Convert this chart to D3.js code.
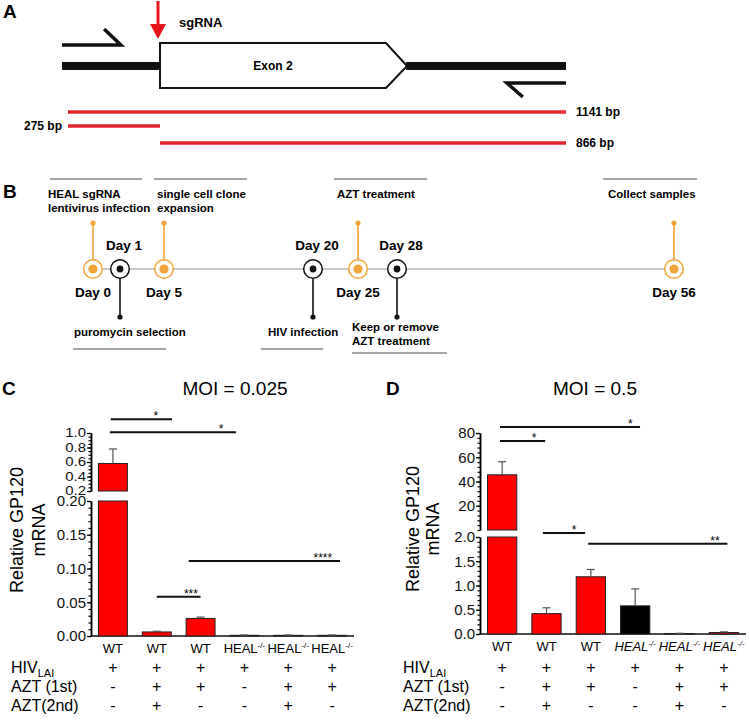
<!DOCTYPE html>
<html>
<head>
<meta charset="utf-8">
<script src="https://cdn.jsdelivr.net/npm/d3@7/dist/d3.min.js"></script>
<style>
  body { margin: 0; background: #fff; }
  svg { display: block; font-family: "Liberation Sans", Arial, sans-serif; }
</style>
</head>
<body>
<div id="fig"></div>
<script>
// ---- panel A: PCR amplicons around the sgRNA cut site (bp)
var ampliconLabels = ["1141 bp", "275 bp", "866 bp"];
var ampliconStart = [0, 0, 275];
var ampliconEnd = [1141, 275, 1141];
var cutSite = 275;

// ---- panel B: experiment timeline
var days = [0, 1, 5, 20, 25, 28, 56];
var dayKinds = ["up", "down", "up", "down", "up", "down", "up"];
var dayNotes = [
  ["HEAL sgRNA", "lentivirus infection"],
  ["puromycin selection"],
  ["single cell clone", "expansion"],
  ["HIV infection"],
  ["AZT treatment"],
  ["Keep or remove", "AZT treatment"],
  ["Collect samples"]
];

// ---- panels C and D
var genotypes = ["WT", "WT", "WT", "HEAL", "HEAL", "HEAL"];
var rowNames = ["HIV", "AZT (1st)", "AZT(2nd)"];
var hivRow  = ["+", "+", "+", "+", "+", "+"];
var azt1Row = ["-", "+", "+", "-", "+", "+"];
var azt2Row = ["-", "+", "-", "-", "+", "-"];

var gp120C = [0.58, 0.006, 0.026, 0.001, 0.001, 0.001];
var semC   = [0.20, 0.001, 0.002, 0.0005, 0.0005, 0.0005];
var colorC = ["red", "red", "red", "red", "red", "red"];

var gp120D = [45.5, 0.42, 1.18, 0.58, 0.01, 0.03];
var semD   = [10.8, 0.12, 0.15, 0.35, 0.005, 0.015];
var colorD = ["red", "red", "red", "black", "red", "red"];

// significance bars: [from, to, star pos (group index units), level, label, segment]
var sigC = [[-0.05, 1.35, 0.98, 1.19, "*", "hi"], [-0.07, 2.81, 2.47, 1.01, "*", "hi"],
            [1.0, 2.0, 1.78, 0.058, "***", "lo"], [1.73, 5.18, 4.79, 0.111, "****", "lo"]];
var sigD = [[-0.05, 3.11, 2.89, 84.9, "*", "hi"], [-0.05, 0.97, 0.72, 73.4, "*", "hi"],
            [0.92, 1.87, 1.62, 2.08, "*", "lo"], [1.94, 5.08, 4.8, 1.86, "**", "lo"]];

var svg = d3.select("#fig").append("svg")
  .attr("width", 750)
  .attr("height", 720);
svg.append("rect").attr("width", 750).attr("height", 720).attr("fill", "#fff");

function letter(t, x, y) {
  svg.append("text").attr("x", x).attr("y", y).text(t)
    .attr("font-size", 19).attr("font-weight", "bold");
}

// ================= panel A =================
letter("A", 3, 18);
var bp = d3.scaleLinear().domain([0, cutSite, 1141]).range([68, 160, 566]);
var a = svg.append("g");

// genomic DNA either side of the exon
a.append("rect").attr("x", bp(-18)).attr("y", 62).attr("width", bp(cutSite) - bp(-18)).attr("height", 8).attr("fill", "#111");
a.append("rect").attr("x", bp(800)).attr("y", 62).attr("width", bp(1141) - bp(800)).attr("height", 8).attr("fill", "#111");

// exon 2 box
a.append("path")
  .attr("d", "M" + bp(cutSite) + ",43 H" + bp(757) + " L" + bp(802) + ",66 L" + bp(757) + ",88 H" + bp(cutSite) + " Z")
  .attr("fill", "#fff").attr("stroke", "#111").attr("stroke-width", 2);
a.append("text").attr("x", (bp(cutSite) + bp(757)) / 2).attr("y", 70).attr("text-anchor", "middle")
  .attr("font-size", 12).attr("font-weight", "bold").text("Exon 2");

// primers
a.append("path").attr("d", "M" + bp(-18) + ",45 H" + bp(158) + " L" + bp(108) + ",29")
  .attr("fill", "none").attr("stroke", "#111").attr("stroke-width", 3.5);
a.append("path").attr("d", "M" + bp(1141) + ",83 H" + bp(1015) + " L" + bp(1049) + ",97")
  .attr("fill", "none").attr("stroke", "#111").attr("stroke-width", 3.5);

// sgRNA arrow
var cx = bp(cutSite) - 2;
a.append("line").attr("x1", cx).attr("x2", cx).attr("y1", 1).attr("y2", 28).attr("stroke", "#e8141b").attr("stroke-width", 3);
a.append("path").attr("d", "M" + (cx - 8) + ",24 L" + (cx + 8) + ",24 L" + cx + ",39 Z").attr("fill", "#e8141b");
a.append("text").attr("x", 179).attr("y", 27).attr("font-size", 13).attr("font-weight", "bold").text("sgRNA");

// amplicons
var ampY = [112, 126, 143];
a.selectAll(".amp").data(ampliconLabels).enter().append("line")
  .attr("class", "amp")
  .attr("x1", function(d, i) { return bp(ampliconStart[i]); })
  .attr("x2", function(d, i) { return bp(ampliconEnd[i]); })
  .attr("y1", function(d, i) { return ampY[i]; })
  .attr("y2", function(d, i) { return ampY[i]; })
  .attr("stroke", "#e4262c").attr("stroke-width", 3.5);
a.selectAll(".ampl").data(ampliconLabels).enter().append("text")
  .attr("class", "ampl")
  .attr("x", function(d, i) { return ampliconStart[i] === 0 && ampliconEnd[i] < 1141 ? bp(ampliconStart[i]) - 6 : bp(ampliconEnd[i]) + 10; })
  .attr("y", function(d, i) { return ampY[i] + 4; })
  .attr("text-anchor", function(d, i) { return ampliconStart[i] === 0 && ampliconEnd[i] < 1141 ? "end" : "start"; })
  .attr("font-size", 12).attr("font-weight", "bold")
  .text(function(d) { return d; });

// ================= panel B =================
letter("B", 3, 198);
var orange = "#f2a33a";
var dayX = d3.scaleLinear().domain(days).range([93, 120, 164, 313, 358, 397, 674]);
var b = svg.append("g");
var lineY = 269;

b.append("line").attr("x1", dayX(0)).attr("x2", dayX(56)).attr("y1", lineY).attr("y2", lineY)
  .attr("stroke", "#c8c8c8").attr("stroke-width", 2);

// note placement relative to each day's marker
var noteDx   = [-45, -46, -7, -45, -21, -45, -66];
var ruleDx   = [-43, -47, -10, -52, -24, -45, -71];
var ruleW    = [92, 93, 93, 62, 93, 95, 94];
var ruleY    = [179, 349, 179, 349, 179, 353, 179];

days.forEach(function(d, i) {
  var x = dayX(d);
  var up = dayKinds[i] === "up";
  var col = up ? orange : "#111";
  var stemEnd = up ? 223 : 317;
  b.append("line").attr("x1", x).attr("x2", x)
    .attr("y1", up ? lineY - 9.5 : lineY + 9.5).attr("y2", stemEnd)
    .attr("stroke", col).attr("stroke-width", 1.6);
  b.append("circle").attr("cx", x).attr("cy", stemEnd).attr("r", 2.6).attr("fill", col);
  b.append("circle").attr("cx", x).attr("cy", lineY).attr("r", 9.3)
    .attr("fill", "#fff").attr("stroke", col).attr("stroke-width", 1.5);
  b.append("circle").attr("cx", x).attr("cy", lineY).attr("r", up ? 4.6 : 3.4).attr("fill", col);

  // day label: below for "up" markers, above for "down"
  b.append("text").attr("x", x + (up ? 0 : 4)).attr("y", up ? 297 : 250)
    .attr("text-anchor", "middle").attr("font-size", 13.5).attr("font-weight", "bold")
    .text("Day " + d);

  // note text and grey rule
  var notes = dayNotes[i];
  var baseY = up ? 198 : (notes.length > 1 ? 331 : 336);
  notes.forEach(function(t, j) {
    b.append("text").attr("x", x + noteDx[i]).attr("y", baseY + j * 14)
      .attr("font-size", 11.5).attr("font-weight", "bold").text(t);
  });
  b.append("line").attr("x1", x + ruleDx[i]).attr("x2", x + ruleDx[i] + ruleW[i])
    .attr("y1", ruleY[i]).attr("y2", ruleY[i])
    .attr("stroke", "#888").attr("stroke-width", 1.5);
});

// ================= panels C and D =================
function barPanel(o) {
  var g = svg.append("g");
  var x = d3.scaleBand().domain(d3.range(genotypes.length))
    .range([o.x0, o.x1]).paddingInner(0.34).paddingOuter(0.17);
  var bw = x.bandwidth();
  var xc = d3.scaleLinear().domain([0, genotypes.length - 1])
    .range([x(0) + bw / 2, x(genotypes.length - 1) + bw / 2]);
  var yl = d3.scaleLinear().domain(o.lowDom).range([o.yBase, o.lowTop]);
  var yu = d3.scaleLinear().domain(o.upDom).range([o.upBot, o.upTop]);
  var lowMax = o.lowDom[1];

  // axes
  function styleAxis(sel) {
    sel.attr("font-family", null).attr("font-size", 15);
    sel.select(".domain").attr("stroke-width", 1.5);
    sel.selectAll(".tick line").attr("stroke-width", 1.2);
    sel.selectAll(".tick text").attr("fill", "#111");
  }
  g.append("g").attr("transform", "translate(" + o.x0 + ",0)")
    .call(d3.axisLeft(yl).tickValues(o.lowMinor).tickSize(2.5).tickSizeOuter(0).tickFormat(""))
    .call(styleAxis);
  g.append("g").attr("transform", "translate(" + o.x0 + ",0)")
    .call(d3.axisLeft(yl).tickValues(o.lowTicks).tickSize(4).tickPadding(1).tickSizeOuter(0).tickFormat(d3.format(o.lowFmt)))
    .call(styleAxis);
  g.append("g").attr("transform", "translate(" + o.x0 + ",0)")
    .call(d3.axisLeft(yu).tickValues(o.upMinor).tickSize(2.5).tickSizeOuter(0).tickFormat(""))
    .call(styleAxis);
  var upAxis = g.append("g").attr("transform", "translate(" + o.x0 + ",0)")
    .call(d3.axisLeft(yu).tickValues(o.upTicks).tickSize(4).tickPadding(1).tickSizeOuter(0).tickFormat(d3.format(o.upFmt)))
    .call(styleAxis);
  // the squeezed upper segment has vertically compressed labels
  upAxis.selectAll(".tick text").attr("transform", "scale(1," + o.upSquash + ")");

  // x axis line
  g.append("line").attr("x1", o.x0).attr("x2", o.x1).attr("y1", o.yBase).attr("y2", o.yBase)
    .attr("stroke", "#111").attr("stroke-width", 1.5);

  // bars, lower segment
  g.selectAll(".barlo").data(o.values).enter().append("rect")
    .attr("class", "barlo")
    .attr("x", function(d, i) { return x(i); })
    .attr("width", bw)
    .attr("y", function(d) { return yl(Math.min(d, lowMax)); })
    .attr("height", function(d) { return yl(0) - yl(Math.min(d, lowMax)); })
    .attr("fill", function(d, i) { return o.colors[i]; })
    .attr("stroke", "#222").attr("stroke-width", 1);

  // bars, upper segment (above the axis break)
  g.selectAll(".barhi").data(o.values).enter().filter(function(d) { return d > lowMax; }).append("rect")
    .attr("class", "barhi")
    .attr("x", function(d) { return x(o.values.indexOf(d)); })
    .attr("width", bw)
    .attr("y", function(d) { return yu(d); })
    .attr("height", function(d) { return yu(o.upDom[0]) - yu(d); })
    .attr("fill", function(d) { return o.colors[o.values.indexOf(d)]; })
    .attr("stroke", "#222").attr("stroke-width", 1);

  // error bars (upper only)
  o.values.forEach(function(v, i) {
    var ys = v > lowMax ? yu : yl;
    var cxb = x(i) + bw / 2;
    g.append("line").attr("x1", cxb).attr("x2", cxb).attr("y1", ys(v)).attr("y2", ys(v + o.errs[i]))
      .attr("stroke", "#555").attr("stroke-width", 1.2);
    g.append("line").attr("x1", cxb - 4).attr("x2", cxb + 4).attr("y1", ys(v + o.errs[i])).attr("y2", ys(v + o.errs[i]))
      .attr("stroke", "#555").attr("stroke-width", 1.2);
  });

  // significance
  o.sig.forEach(function(s) {
    var ys = s[5] === "hi" ? yu : yl;
    var y = ys(s[3]);
    g.append("line").attr("x1", xc(s[0])).attr("x2", xc(s[1])).attr("y1", y).attr("y2", y)
      .attr("stroke", "#111").attr("stroke-width", 2);
    g.append("text").attr("x", xc(s[2])).attr("y", y + 1).attr("text-anchor", "middle")
      .attr("font-size", 12).text(s[4]);
  });

  // genotype labels
  genotypes.forEach(function(t, i) {
    var tx = g.append("text").attr("x", xc(i)).attr("y", o.labelY).attr("text-anchor", "middle")
      .attr("font-size", 13);
    if (t === "HEAL") {
      tx.append("tspan").text("HEAL").attr("font-style", o.italic ? "italic" : null);
      tx.append("tspan").text("-/-").attr("font-size", 8).attr("dy", -5).attr("font-style", o.italic ? "italic" : null);
    } else {
      tx.text(t);
    }
  });

  // treatment rows
  var rows = [hivRow, azt1Row, azt2Row];
  var rowY = [673, 692, 711];
  rows.forEach(function(r, k) {
    var lab = g.append("text").attr("x", o.rowX).attr("y", rowY[k]).attr("font-size", 16);
    lab.append("tspan").text(rowNames[k]);
    if (k === 0) lab.append("tspan").text("LAI").attr("font-size", 11).attr("dy", 4);
    r.forEach(function(s, i) {
      g.append("text").attr("x", xc(i)).attr("y", rowY[k]).attr("text-anchor", "middle")
        .attr("font-size", 16).text(s);
    });
  });

  // y axis title
  var yt = g.append("text").attr("transform", "translate(" + o.titleX + "," + o.titleY + ") rotate(-90)")
    .attr("text-anchor", "middle").attr("font-size", 18);
  yt.append("tspan").attr("x", 0).attr("y", 0).text("Relative GP120");
  yt.append("tspan").attr("x", 0).attr("y", o.titleGap).text("mRNA");

  // MOI heading
  g.append("text").attr("x", o.headX).attr("y", 395).attr("text-anchor", "middle")
    .attr("font-size", 19).text(o.head);
}

letter("C", 2, 395);
barPanel({
  x0: 91, x1: 354, yBase: 636,
  lowDom: [0, 0.2], lowTop: 501, lowTicks: [0, 0.05, 0.1, 0.15, 0.2], lowFmt: ".2f",
  lowMinor: d3.range(0, 21).map(function(k) { return k / 100; }),
  upDom: [0.2, 1.0], upBot: 491, upTop: 433, upTicks: [0.2, 0.4, 0.6, 0.8, 1.0], upFmt: ".1f",
  upMinor: d3.range(4, 21).map(function(k) { return k / 20; }), upSquash: 0.82,
  values: gp120C, errs: semC, colors: colorC, sig: sigC,
  labelY: 653, italic: false, rowX: 11,
  titleX: 23, titleY: 530, titleGap: 22,
  head: "MOI = 0.025", headX: 235
});

letter("D", 386, 395);
barPanel({
  x0: 480, x1: 746, yBase: 634,
  lowDom: [0, 2], lowTop: 537, lowTicks: [0, 0.5, 1, 1.5, 2], lowFmt: ".1f",
  lowMinor: d3.range(0, 21).map(function(k) { return k / 10; }),
  upDom: [0, 80], upBot: 530, upTop: 433, upTicks: [20, 40, 60, 80], upFmt: "d",
  upMinor: d3.range(0, 81, 4), upSquash: 1,
  values: gp120D, errs: semD, colors: colorD, sig: sigD,
  labelY: 651, italic: true, rowX: 403,
  titleX: 419, titleY: 529, titleGap: 20,
  head: "MOI = 0.5", headX: 595
});
</script>
</body>
</html>
